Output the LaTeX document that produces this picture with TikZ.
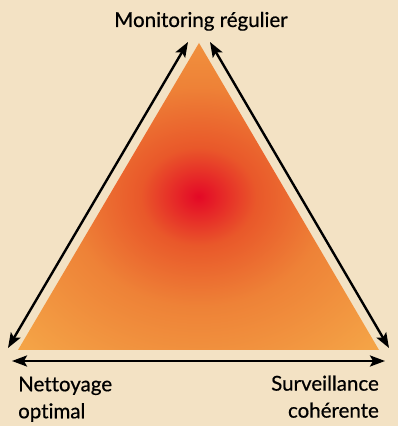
\documentclass[tikz,border=0pt]{standalone}
\usepackage{fontspec}
\setmainfont{Lato}
\newfontfamily\labelfont[FakeBold=0.6,Ligatures=CommonOff]{Lato}
\usetikzlibrary{arrows.meta}
\definecolor{paper}{RGB}{243,226,196}
\definecolor{hotred}{RGB}{228,8,38}
\definecolor{hotmid}{RGB}{233,88,42}
\definecolor{warmorange}{RGB}{238,130,55}
\definecolor{lightorange}{RGB}{244,163,70}
\definecolor{paleorange}{RGB}{246,178,78}
\pgfdeclareradialshading{heat}{\pgfpoint{0bp}{0bp}}{color(0bp)=(hotred); color(8bp)=(hotmid); color(18bp)=(warmorange); color(34bp)=(lightorange); color(50bp)=(paleorange); color(80bp)=(paleorange)}

\begin{document}
\begin{tikzpicture}[x=1pt,y=1pt,
    side/.style={line width=2.4pt, {Stealth[length=15pt,width=11pt,inset=3pt]}-{Stealth[length=15pt,width=11pt,inset=3pt]}},
    label/.style={inner sep=0pt, font=\labelfont\fontsize{20.5}{27}\selectfont}]
    % background and frame
    \fill[paper] (0,0) rectangle (398,426);
    \useasboundingbox (0,0) rectangle (398,426);
    % corners of the triangle
    \coordinate (top) at (199,383);
    \coordinate (left) at (18,76);
    \coordinate (right) at (379,76);
    \shade[shading=heat] (top) -- (right) -- (left) -- cycle;
    % arrow ends
    \coordinate (lt) at (188,384);
    \coordinate (lb) at (8,78);
    \coordinate (rt) at (210,384);
    \coordinate (rb) at (389,78);
    \coordinate (bl) at (12,65);
    \coordinate (br) at (385,65);
    \draw[side] (lt) -- (lb);
    \draw[side] (rt) -- (rb);
    \draw[side] (bl) -- (br);
    % labels
    \node[label, anchor=base] (monitoring) at (201,399) {Monitoring régulier};
    \node[label, anchor=south west, align=left] (nettoyage) at (18,4) {Nettoyage\\optimal};
    \node[label, anchor=south east, align=right] (surveillance) at (379,8) {Surveillance\\cohérente};
\end{tikzpicture}
\end{document}
